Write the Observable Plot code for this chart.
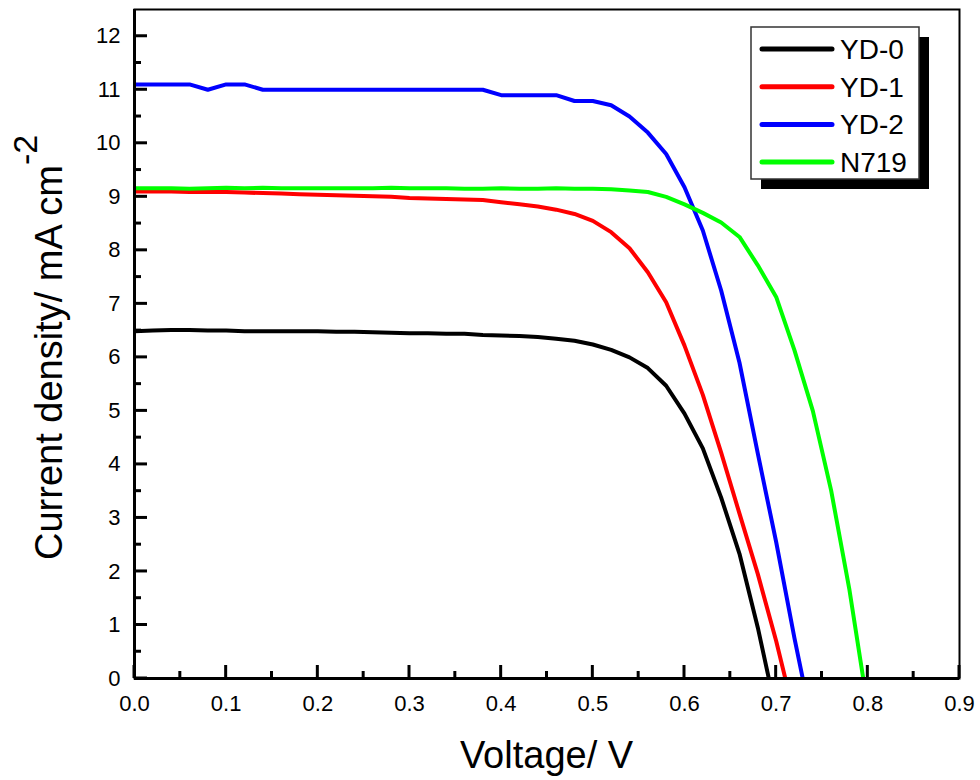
<!DOCTYPE html>
<html><head><meta charset="utf-8">
<script src="https://cdn.jsdelivr.net/npm/d3@7"></script>
<script src="https://cdn.jsdelivr.net/npm/@observablehq/plot@0.6"></script>
<style>
body{margin:0;background:#fff}
#wrap{position:relative;width:980px;height:780px;font-family:Arial,"Liberation Sans",sans-serif}
</style>
</head><body><div id="wrap"></div>
<script>
const series = ["YD-0", "YD-1", "YD-2", "N719"];
const colors = ["#000000", "#ff0000", "#0000ff", "#00ff00"];

const v_YD0 = [0,0.02,0.04,0.06,0.08,0.10,0.12,0.14,0.16,0.18,0.20,0.22,0.24,0.26,0.28,0.30,0.32,0.34,0.36,0.38,0.40,0.42,0.44,0.46,0.48,0.50,0.52,0.54,0.56,0.58,0.60,0.62,0.64,0.66,0.68,0.692];
const j_YD0 = [6.49,6.50,6.51,6.51,6.50,6.50,6.49,6.49,6.49,6.49,6.49,6.48,6.48,6.47,6.46,6.45,6.45,6.44,6.44,6.42,6.41,6.40,6.38,6.35,6.31,6.24,6.14,6.00,5.80,5.47,4.95,4.30,3.38,2.33,0.95,0];

const v_YD1 = [0,0.02,0.04,0.06,0.08,0.10,0.12,0.14,0.16,0.18,0.20,0.22,0.24,0.26,0.28,0.30,0.32,0.34,0.36,0.38,0.40,0.42,0.44,0.46,0.48,0.50,0.52,0.54,0.56,0.58,0.60,0.62,0.64,0.66,0.68,0.70,0.71];
const j_YD1 = [9.10,9.10,9.10,9.09,9.09,9.09,9.08,9.07,9.06,9.05,9.04,9.03,9.02,9.01,9.00,8.98,8.97,8.96,8.95,8.94,8.90,8.86,8.82,8.76,8.68,8.55,8.34,8.04,7.59,7.03,6.22,5.30,4.22,3.08,1.95,0.70,0];

const v_YD2 = [0,0.02,0.04,0.06,0.08,0.10,0.12,0.14,0.16,0.18,0.20,0.22,0.24,0.26,0.28,0.30,0.32,0.34,0.36,0.38,0.40,0.42,0.44,0.46,0.48,0.50,0.52,0.54,0.56,0.58,0.60,0.62,0.64,0.66,0.68,0.70,0.72,0.729];
const j_YD2 = [11.10,11.10,11.10,11.10,11.00,11.10,11.10,11.00,11.00,11.00,11.00,11.00,11.00,11.00,11.00,11.00,11.00,11.00,11.00,11.00,10.90,10.90,10.90,10.90,10.79,10.79,10.71,10.50,10.20,9.80,9.18,8.37,7.25,5.90,4.20,2.55,0.75,0];

const v_N719 = [0,0.02,0.04,0.06,0.08,0.10,0.12,0.14,0.16,0.18,0.20,0.22,0.24,0.26,0.28,0.30,0.32,0.34,0.36,0.38,0.40,0.42,0.44,0.46,0.48,0.50,0.52,0.54,0.56,0.58,0.60,0.62,0.64,0.66,0.68,0.70,0.72,0.74,0.76,0.78,0.795];
const j_N719 = [9.16,9.16,9.16,9.15,9.16,9.17,9.16,9.17,9.16,9.16,9.16,9.16,9.16,9.16,9.17,9.16,9.16,9.16,9.15,9.15,9.16,9.15,9.15,9.16,9.15,9.15,9.14,9.12,9.09,9.00,8.86,8.70,8.52,8.25,7.72,7.13,6.13,5.00,3.51,1.65,0];

const xTicks = [0,0.1,0.2,0.3,0.4,0.5,0.6,0.7,0.8,0.9];
const xMinor = [0.05,0.15,0.25,0.35,0.45,0.55,0.65,0.75,0.85];
const yTicks = [0,1,2,3,4,5,6,7,8,9,10,11,12];
const yMinor = [0.5,1.5,2.5,3.5,4.5,5.5,6.5,7.5,8.5,9.5,10.5,11.5];

const xTitle = "Voltage/ V";
const yTitle = "Current density/ mA cm";
const yTitleSup = "-2";

const voltages = [v_YD0, v_YD1, v_YD2, v_N719];
const currents = [j_YD0, j_YD1, j_YD2, j_N719];
const rows = [];
series.forEach((s, i) => voltages[i].forEach((v, k) => rows.push({series: s, v, j: currents[i][k]})));

const W = 980, H = 780, mL = 134, mR = 21, mT = 9, mB = 102;
const ph = H - mT - mB, pw = W - mL - mR;
const font = "Arial, 'Liberation Sans', sans-serif";

const chart = Plot.plot({
  width: W, height: H,
  marginLeft: mL, marginRight: mR, marginTop: mT, marginBottom: mB,
  style: {fontFamily: font, fontSize: "22px", color: "#000", background: "#fff", overflow: "visible"},
  x: {domain: [0, 0.9]},
  y: {domain: [0, 12.5]},
  color: {domain: series, range: colors},
  marks: [
    Plot.axisX({ticks: xTicks, tickSize: 0, tickPadding: 17, tickFormat: d => d.toFixed(1), fontSize: 22, label: null}),
    Plot.axisY({ticks: yTicks, tickSize: 0, tickPadding: 14, fontSize: 22, label: null}),
    Plot.line(rows, {x: "v", y: "j", z: "series", stroke: "series", strokeWidth: 4, strokeLinejoin: "round", clip: true}),
    Plot.frame({stroke: "#000", strokeWidth: 2, fill: "none"}),
    Plot.ruleX([0], {stroke: "#000", strokeWidth: 3}),
    Plot.ruleY([0], {stroke: "#000", strokeWidth: 3})
  ]
});

document.getElementById("wrap").appendChild(chart);
const svg = d3.select(chart);
const sx = chart.scale("x"), sy = chart.scale("y");
const x0 = sx.apply(0), y0 = sy.apply(0);

// inward ticks, positioned through Plot's scales (beneath the curves)
const lineG = svg.select("g[aria-label='line']").node();
const tg = lineG ? svg.insert("g", () => lineG) : svg.append("g");
function tick(x1, y1, x2, y2) {
  tg.append("line").attr("x1", x1).attr("y1", y1).attr("x2", x2).attr("y2", y2)
    .style("stroke", "#000").style("stroke-width", "3px");
}
xTicks.forEach(v => tick(sx.apply(v), y0, sx.apply(v), y0 - 13));
xMinor.forEach(v => tick(sx.apply(v), y0, sx.apply(v), y0 - 7));
yTicks.forEach(v => tick(x0, sy.apply(v), x0 + 13, sy.apply(v)));
yMinor.forEach(v => tick(x0, sy.apply(v), x0 + 7, sy.apply(v)));

// x title
svg.append("text")
  .attr("x", mL + pw / 2).attr("y", 768)
  .attr("text-anchor", "middle")
  .attr("font-family", font).attr("font-size", 38).attr("fill", "#000")
  .text(xTitle);

// y title with superscript
const yt = svg.append("text")
  .attr("transform", "translate(62,560) rotate(-90)")
  .attr("text-anchor", "start")
  .attr("font-family", font).attr("font-size", 38).attr("fill", "#000");
yt.append("tspan").text(yTitle);
yt.append("tspan").attr("dy", -25).attr("font-size", 34).text(yTitleSup);

// legend
const lg = svg.append("g");
const lx = 751, ly = 27, lw = 168, lh = 152, rowH = 37.7;
lg.append("rect").attr("x", lx + 10).attr("y", ly + 10).attr("width", lw).attr("height", lh).attr("fill", "#000");
lg.append("rect").attr("x", lx).attr("y", ly).attr("width", lw).attr("height", lh)
  .attr("fill", "#fff").attr("stroke", "#333").attr("stroke-width", 1.5);
series.forEach((s, i) => {
  const cy = ly + 22 + i * rowH;
  lg.append("line").attr("x1", lx + 11).attr("x2", lx + 81).attr("y1", cy).attr("y2", cy)
    .attr("stroke", colors[i]).attr("stroke-width", 5).attr("stroke-linecap", "round");
  lg.append("text").attr("x", lx + 89).attr("y", cy + 10)
    .attr("text-anchor", "start")
    .attr("font-family", font).attr("font-size", 28).attr("fill", "#000").text(s);
});
</script>
</body></html>
